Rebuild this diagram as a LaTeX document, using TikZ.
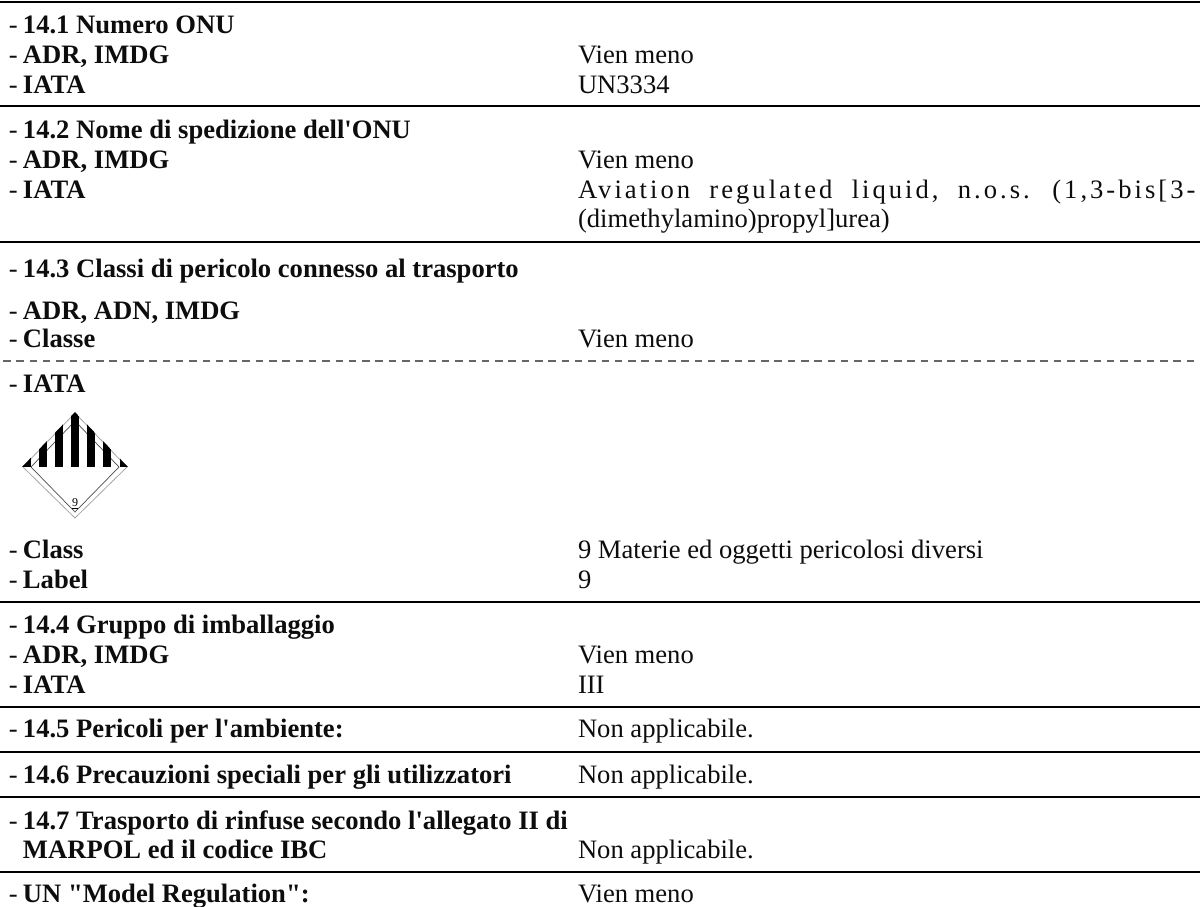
\documentclass[tikz,border=0pt]{standalone}
\usepackage{fontspec}
\setmainfont{Liberation Serif}
\newfontfamily\plainfont{Liberation Serif}
\newfontfamily\spacedfont[LetterSpace=11.3,WordSpace=2.0]{Liberation Serif}
\tikzset{
  x=1pt,y=-1pt,
  txt/.style={anchor=base west,inner sep=0pt,outer sep=0pt,font=\fontsize{26.6}{30}\plainfont,text=black!95},
  hd/.style={txt,font=\fontsize{26.6}{30}\plainfont\bfseries},
  dashmark/.style={txt},
  rulesolid/.style={draw=black,line width=2pt},
  ruledash/.style={draw=black!60,line width=1.3pt,dash pattern=on 7.5pt off 5.8pt},
}
\newcommand{\lab}[3]{%
  \node[dashmark] (d#1) at (9,#2) {-};
  \node[hd] (h#1) at (23,#2) {#3};}
\newcommand{\val}[3]{\node[txt] (v#1) at (578,#2) {#3};}
\begin{document}
\begin{tikzpicture}
\useasboundingbox (0,0) rectangle (1200,906);
\fill[white] (0,0) rectangle (1200,906);
\foreach \y in {1.5,106,241.5,602,707,752,797,872}
  \draw[rulesolid] (0,\y) -- (1200,\y);
\draw[ruledash] (3,361) -- (1200,361);
\lab{a}{33}{14.1 Numero ONU}
\lab{b}{63}{ADR, IMDG}\val{b}{63}{Vien meno}
\lab{c}{93}{IATA}\val{c}{93}{UN3334}
\lab{e}{138}{14.2 Nome di spedizione dell'ONU}
\lab{f}{168}{ADR, IMDG}\val{f}{168}{Vien meno}
\lab{g}{198}{IATA}
\node[txt,font=\fontsize{26.6}{30}\spacedfont] (vg) at (578,198) {Aviation regulated liquid, n.o.s. (1,3-bis[3-};
\node[txt] (vg2) at (578,227) {(dimethylamino)propyl]urea)};
\lab{h}{277}{14.3 Classi di pericolo connesso al trasporto}
\lab{i}{319}{ADR, ADN, IMDG}
\lab{j}{347}{Classe}\val{j}{347}{Vien meno}
\lab{k}{392}{IATA}
% hazard label
\draw[black!35,line width=0.8pt] (75,413) -- (127,467) -- (75,518) -- (23,467) -- cycle;
\draw[black!70,line width=0.7pt] (75,421) -- (119,467) -- (75,512) -- (31,467) -- cycle;
\begin{scope}
\clip (75,412) -- (128,467) -- (22,467) -- cycle;
\foreach \xa/\xb in {22/30.7,39/46.7,55/62.7,71/79,87.3/95,103.3/111,120/128}
  \fill[black] (\xa,410) rectangle (\xb,467);
\end{scope}
\node[inner sep=0pt,font=\fontsize{12}{12}\plainfont] (nine) at (75,504) {\underline{9}};
\lab{l}{558}{Class}\val{l}{558}{9 Materie ed oggetti pericolosi diversi}
\lab{m}{588}{Label}\val{m}{588}{9}
\lab{n}{633}{14.4 Gruppo di imballaggio}
\lab{o}{663}{ADR, IMDG}\val{o}{663}{Vien meno}
\lab{p}{693}{IATA}\val{p}{693}{III}
\lab{q}{737}{14.5 Pericoli per l'ambiente:}\val{q}{737}{Non applicabile.}
\lab{r}{783}{14.6 Precauzioni speciali per gli utilizzatori}\val{r}{783}{Non applicabile.}
\lab{s}{829}{14.7 Trasporto di rinfuse secondo l'allegato II di}
\node[hd] (hs2) at (23,858) {MARPOL ed il codice IBC};
\val{s}{858}{Non applicabile.}
\lab{t}{902}{UN "Model Regulation":}\val{t}{902}{Vien meno}
\end{tikzpicture}
\end{document}
